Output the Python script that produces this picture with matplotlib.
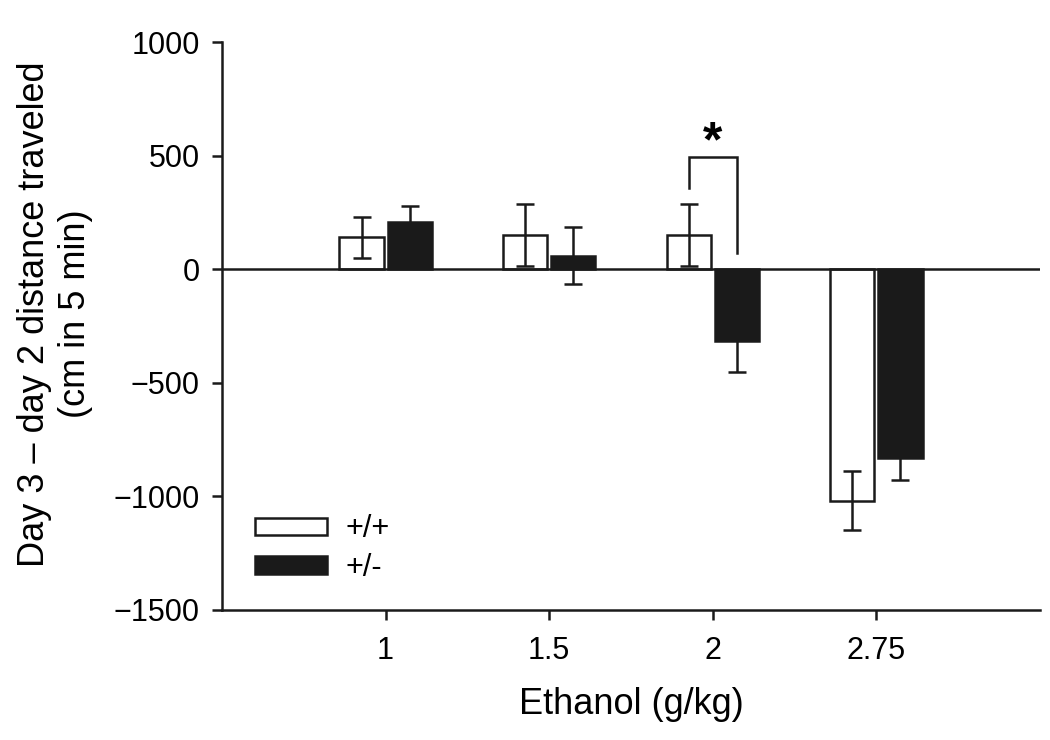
import matplotlib
matplotlib.use("Agg")
import matplotlib.pyplot as plt
from matplotlib.patches import Patch
import numpy as np

plt.rcParams['font.family'] = ['Liberation Sans', 'DejaVu Sans']

doses = ["1", "1.5", "2", "2.75"]
wt_mean = [140, 150, 150, -1020]
wt_se = [92, 137, 138, 130]
het_mean = [210, 60, -315, -830]
het_se = [70, 125, 137, 100]
genotypes = ["+/+", "+/-"]

fig = plt.figure(figsize=(10.5, 7.4), dpi=100)
ax = fig.add_axes([0.2114, 0.1757, 0.9905 - 0.2114, 0.9432 - 0.1757])

ink = "#1a1a1a"
x = np.arange(1, len(doses) + 1)
w = 0.27
off = 0.147
lw = 1.8
ax.bar(x - off, wt_mean, width=w, color="white", edgecolor=ink, linewidth=lw, zorder=3)
ax.bar(x + off, het_mean, width=w, color=ink, edgecolor=ink, linewidth=lw, zorder=3)
ax.errorbar(x - off, wt_mean, yerr=wt_se, fmt="none", ecolor=ink, elinewidth=lw,
            capsize=6.7, capthick=lw, zorder=4)
ax.errorbar(x + off, het_mean, yerr=het_se, fmt="none", ecolor=ink, elinewidth=lw,
            capsize=6.7, capthick=lw, zorder=4)

ax.axhline(0, color=ink, linewidth=1.8, zorder=5)

# significance bracket at 2 g/kg
bx0, bx1 = 3 - off, 3 + off
ax.plot([bx0, bx0, bx1, bx1], [356, 493, 493, 70], color=ink, linewidth=lw,
        solid_joinstyle="miter", zorder=5)
ax.text(3, 455, "*", ha="center", va="bottom", fontsize=36, fontweight="bold")

ax.set_xlim(0, 5)
ax.set_ylim(-1500, 1000)
ax.set_xticks(x)
ax.set_xticklabels(doses)
ax.set_yticks(np.arange(-1500, 1001, 500))

for s in ["top", "right"]:
    ax.spines[s].set_visible(False)
for s in ["left", "bottom"]:
    ax.spines[s].set_linewidth(1.8)
    ax.spines[s].set_color(ink)
ax.tick_params(axis="both", direction="out", length=7, width=1.8, labelsize=22, color=ink)
ax.tick_params(axis="y", pad=9)
ax.tick_params(axis="x", pad=12)

fig.text((222 + 1040) / 2 / 1050, 1 - 704 / 740, "Ethanol (g/kg)", fontsize=26,
         ha="center", va="center")
fig.text(55 / 1050, 1 - 314 / 740, "Day 3 \u2013 day 2 distance traveled\n(cm in 5 min)",
         fontsize=26, rotation=90, ha="center", va="center", multialignment="center",
         linespacing=1.2)

handles = [Patch(facecolor="white", edgecolor=ink, linewidth=1.8),
           Patch(facecolor=ink, edgecolor=ink, linewidth=1.8)]
leg = ax.legend(handles, genotypes, loc="lower left", bbox_to_anchor=(0.0403, 0.048), frameon=False,
                fontsize=22, handlelength=2.35, handleheight=0.5, labelspacing=0.28,
                handletextpad=0.62, borderaxespad=0, borderpad=0)

fig.savefig("out.png", dpi=100)
